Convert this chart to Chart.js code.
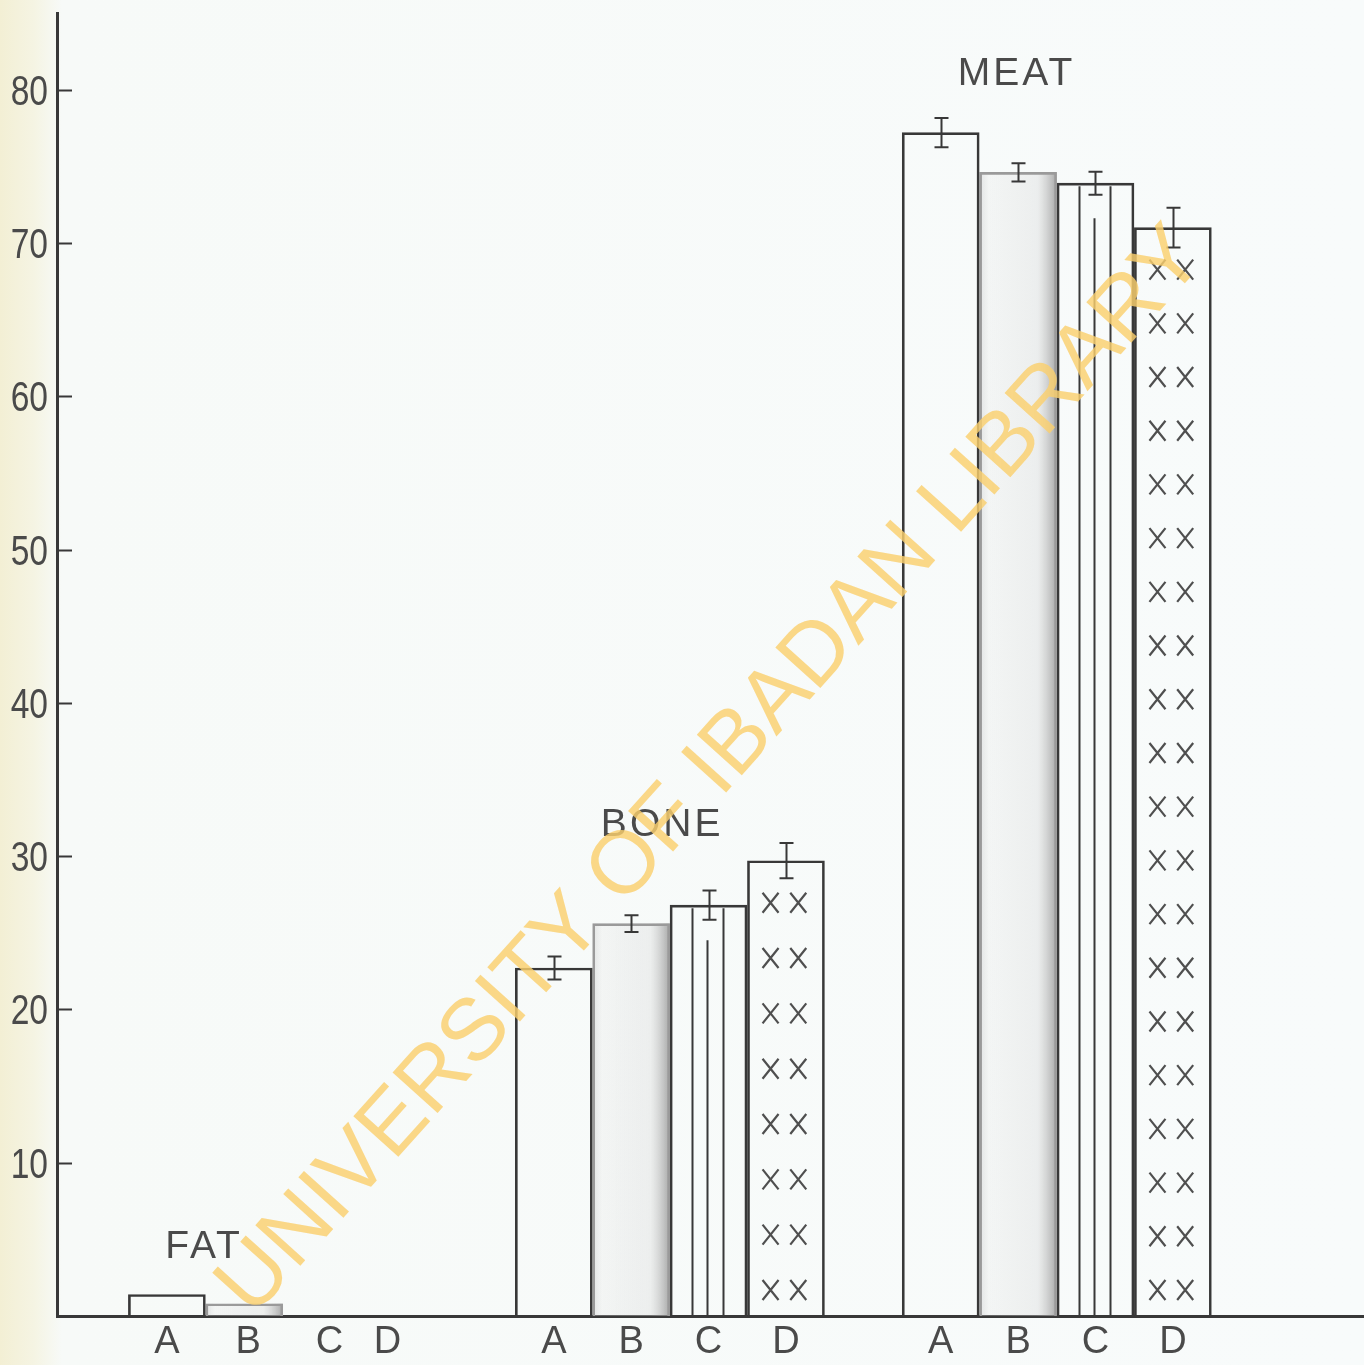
<!DOCTYPE html>
<html>
<head>
<meta charset="utf-8">
<title>FAT / BONE / MEAT</title>
<script src="https://cdn.jsdelivr.net/npm/chart.js@4.4.1/dist/chart.umd.min.js"></script>
<style>
  html, body { margin: 0; padding: 0; }
  body {
    width: 1364px; height: 1365px; overflow: hidden;
    background: linear-gradient(to right, #f3efd4 0px, #f5f4e3 34px, #f7faf8 62px, #f8fbfb 100%);
  }
  #wrap { position: relative; width: 1364px; height: 1365px; }
</style>
</head>
<body>
<div id="wrap"><canvas id="chart"></canvas></div>
<script>
// Groups and treatments
const groups = ['FAT', 'BONE', 'MEAT'];
const treatments = ['A', 'B', 'C', 'D'];

// Percent values per treatment (FAT, BONE, MEAT)
const valuesA = [1.4, 22.7, 77.2];
const valuesB = [0.8, 25.6, 74.6];
const valuesC = [null, 26.8, 73.9];
const valuesD = [null, 29.7, 71.0];

// Error bar half-lengths
const errorsA = [0, 0.75, 0.95];
const errorsB = [0, 0.55, 0.6];
const errorsC = [0, 0.95, 0.75];
const errorsD = [0, 1.15, 1.3];

// Axis ticks
const yTicks = [10, 20, 30, 40, 50, 60, 70, 80];
const xTickPos = [1, 2.05, 3.1, 3.85, 6, 7, 8, 9, 11, 12, 13, 14];
const xTickLabels = ['A', 'B', 'C', 'D', 'A', 'B', 'C', 'D', 'A', 'B', 'C', 'D'];

// Group titles anchored in data units [x, y]
const titleAnchors = [[1.48, 3.8], [7.4, 31.3], [11.98, 80.3]];

const series = [valuesA, valuesB, valuesC, valuesD];
const errors = [errorsA, errorsB, errorsC, errorsD];
const slot = (g, t) => g * 5 + t + 1;

const INK = '#383838';
const TEXT = '#4a4a4a';
const SANS = '"Liberation Sans", Arial, sans-serif';

function barBox(el) {
  const p = el.getProps(['x', 'y', 'base', 'width'], true);
  return { left: p.x - p.width / 2, right: p.x + p.width / 2, top: p.y, bottom: p.base, w: p.width, cx: p.x };
}

/** Штриховки, усы ошибок, подписи групп, водяной знак */
const decorPlugin = {
  id: 'decor',
  beforeDatasetsDraw(chart) {
    const ctx = chart.ctx;
    // B — серая заливка, темнее к правому краю
    chart.getDatasetMeta(1).data.forEach((el, g) => {
      if (valuesB[g] == null) return;
      const b = barBox(el);
      const grad = ctx.createLinearGradient(b.left, 0, b.right, 0);
      grad.addColorStop(0, 'rgba(190,190,190,0.40)');
      grad.addColorStop(0.12, 'rgba(228,228,228,0.25)');
      grad.addColorStop(0.75, 'rgba(215,215,215,0.35)');
      grad.addColorStop(1, 'rgba(140,140,140,0.75)');
      ctx.fillStyle = grad;
      ctx.fillRect(b.left, b.top, b.w, b.bottom - b.top);
    });
  },
  afterDatasetsDraw(chart) {
    const ctx = chart.ctx;
    const yScale = chart.scales.y;
    ctx.save();
    ctx.strokeStyle = INK;
    ctx.lineWidth = 2;

    // C — вертикальные линии
    chart.getDatasetMeta(2).data.forEach((el, g) => {
      if (valuesC[g] == null) return;
      const b = barBox(el);
      [[0.29, 3], [0.48, 35], [0.69, 3]].forEach(([f, drop]) => {
        const x = Math.round(b.left + b.w * f) + 0.5;
        ctx.beginPath();
        ctx.moveTo(x, b.top + drop);
        ctx.lineTo(x, b.bottom);
        ctx.stroke();
      });
    });

    // D — пары крестиков
    ctx.strokeStyle = '#4f4f4f';
    ctx.lineWidth = 2.2;
    chart.getDatasetMeta(3).data.forEach((el, g) => {
      if (valuesD[g] == null) return;
      const b = barBox(el);
      const y0 = b.top + 42, y1 = b.bottom - 26;
      const n = Math.round((y1 - y0) / 53) + 1;
      for (let i = 0; i < n; i++) {
        const cy = y0 + (y1 - y0) * i / (n - 1);
        [0.3, 0.66].forEach(f => {
          const cx = b.left + b.w * f;
          ctx.beginPath();
          ctx.moveTo(cx - 8, cy - 10); ctx.lineTo(cx + 8, cy + 10);
          ctx.moveTo(cx + 8, cy - 10); ctx.lineTo(cx - 8, cy + 10);
          ctx.stroke();
        });
      }
    });

    // Усы ошибок
    ctx.strokeStyle = INK;
    ctx.lineWidth = 2;
    series.forEach((vals, t) => {
      chart.getDatasetMeta(t).data.forEach((el, g) => {
        const v = vals[g];
        const e = errors[t][g];
        if (v == null || !e) return;
        const b = barBox(el);
        const yTop = yScale.getPixelForValue(v + e);
        const yBot = yScale.getPixelForValue(v - e);
        const x = Math.round(b.cx) + 0.5;
        ctx.beginPath();
        ctx.moveTo(x, yTop); ctx.lineTo(x, yBot);
        ctx.moveTo(x - 7, yTop); ctx.lineTo(x + 7, yTop);
        ctx.moveTo(x - 7, yBot); ctx.lineTo(x + 7, yBot);
        ctx.stroke();
      });
    });
    ctx.restore();
  },
  afterDraw(chart) {
    const ctx = chart.ctx;
    const { x: xScale, y: yScale } = chart.scales;
    ctx.save();

    // Засечки оси Y внутрь и узкие подписи
    ctx.strokeStyle = INK;
    ctx.lineWidth = 2;
    ctx.fillStyle = TEXT;
    ctx.font = '42px ' + SANS;
    ctx.textAlign = 'right';
    ctx.textBaseline = 'middle';
    yTicks.forEach(v => {
      const y = Math.round(yScale.getPixelForValue(v)) + 0.5;
      ctx.beginPath();
      ctx.moveTo(xScale.left, y);
      ctx.lineTo(xScale.left + 15, y);
      ctx.stroke();
      ctx.save();
      ctx.translate(xScale.left - 9, y + 3);
      ctx.scale(0.8, 1);
      ctx.fillText(String(v), 0, 0);
      ctx.restore();
    });

    // Подписи групп
    ctx.font = '39px ' + SANS;
    ctx.letterSpacing = '3px';
    ctx.textAlign = 'center';
    ctx.textBaseline = 'alphabetic';
    groups.forEach((name, g) => {
      const [ax, ay] = titleAnchors[g];
      ctx.fillText(name, xScale.getPixelForValue(ax), yScale.getPixelForValue(ay));
    });
    ctx.letterSpacing = '0px';

    // Водяной знак
    ctx.translate(712, 772);
    ctx.rotate(-48 * Math.PI / 180);
    ctx.font = '88px ' + SANS;
    ctx.fillStyle = 'rgba(250, 208, 110, 0.82)';
    ctx.textAlign = 'center';
    ctx.textBaseline = 'middle';
    ctx.fillText('UNIVERSITY OF IBADAN LIBRARY', 0, 0);
    ctx.restore();
  },
};

const datasets = treatments.map((t, i) => ({
  label: t,
  data: groups.map((_, g) => ({ x: slot(g, i), y: series[i][g] })),
  backgroundColor: 'rgba(255,255,255,0)',
  borderColor: i === 1 ? '#9a9a9a' : INK,
  borderWidth: 2,
  borderSkipped: 'bottom',
  grouped: false,
  barThickness: 77,
}));

new Chart(document.getElementById('chart'), {
  type: 'bar',
  data: { datasets },
  options: {
    responsive: true,
    maintainAspectRatio: false,
    animation: false,
    layout: { padding: { top: 13, right: 0, bottom: 0, left: 0 } },
    plugins: { legend: { display: false }, tooltip: { enabled: false } },
    scales: {
      x: {
        type: 'linear',
        min: -0.42,
        max: 16.47,
        offset: false,
        grid: { display: false, drawTicks: false },
        border: { display: true, color: INK, width: 3 },
        afterBuildTicks: scale => { scale.ticks = xTickPos.map(v => ({ value: v })); },
        afterFit: scale => {
          scale.height = 49;
          scale.paddingLeft = 0;
          scale.paddingRight = 0;
        },
        ticks: {
          autoSkip: false,
          maxRotation: 0,
          padding: 4,
          color: TEXT,
          font: { family: SANS, size: 38 },
          callback: (v, i) => xTickLabels[i],
        },
      },
      y: {
        min: 0,
        max: 85,
        grid: { display: false, drawTicks: false },
        border: { display: true, color: INK, width: 3 },
        afterBuildTicks: scale => { scale.ticks = yTicks.map(v => ({ value: v })); },
        afterFit: scale => {
          scale.width = 57;
          scale.paddingTop = 0;
          scale.paddingBottom = 0;
        },
        ticks: { display: false },
      },
    },
  },
  plugins: [decorPlugin],
});
</script>
</body>
</html>
